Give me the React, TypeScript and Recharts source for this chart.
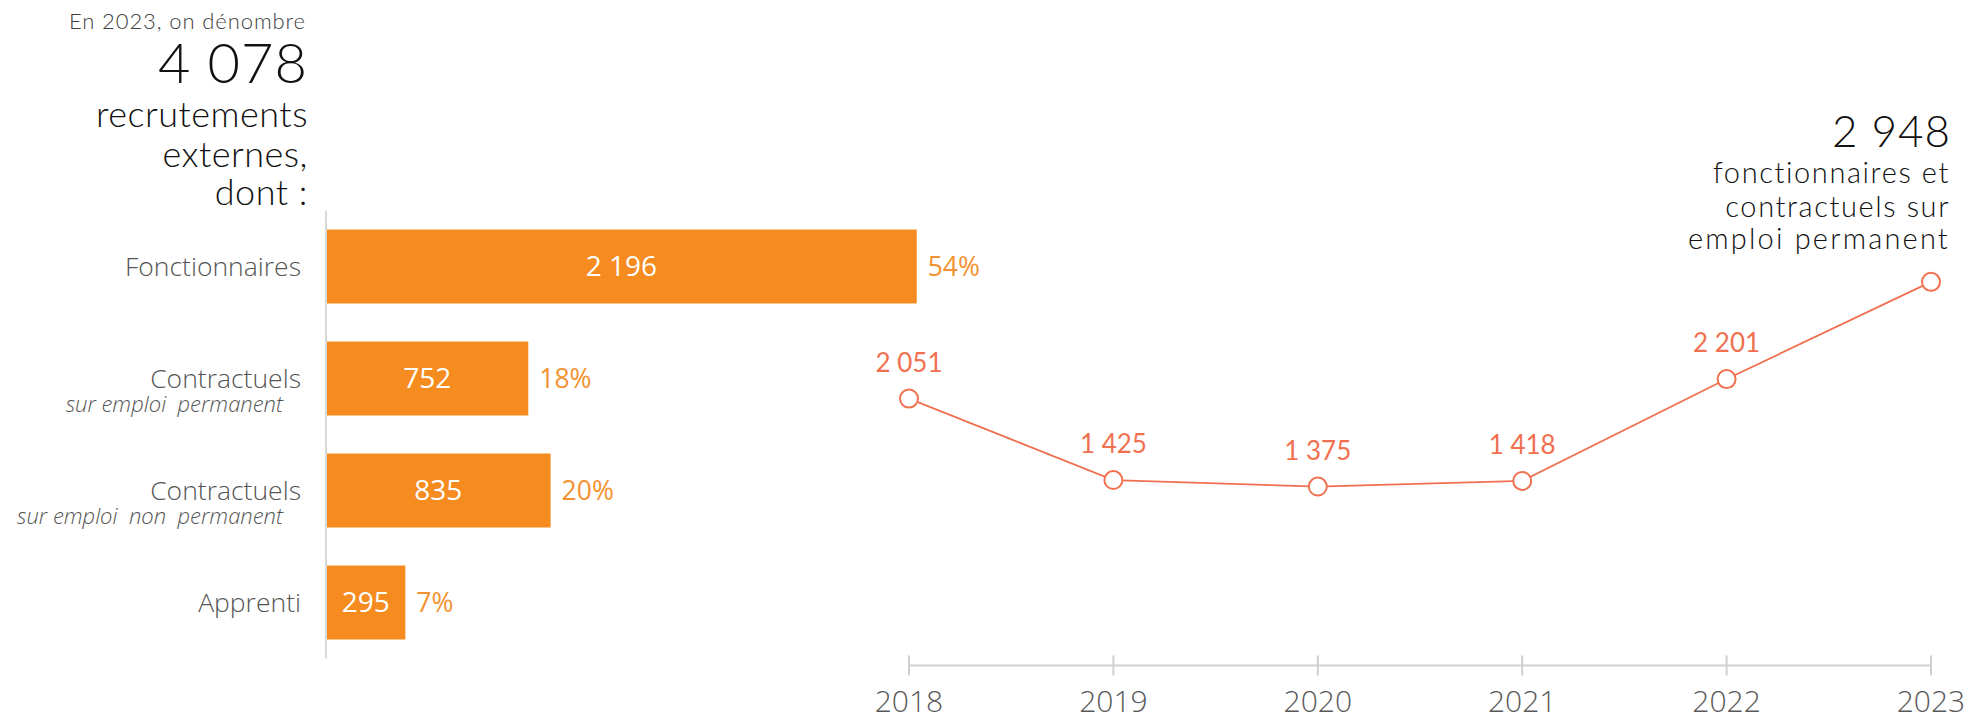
import React from 'react';
import { BarChart, Bar, XAxis, YAxis, LabelList, LineChart, Line } from 'recharts';

// Recrutements externes 2023, par statut
const categories = ['Fonctionnaires', 'Contractuels', 'Contractuels', 'Apprenti'];
const subLabels = ['', 'sur emploi  permanent', 'sur emploi  non  permanent', ''];
const recruitments = [2196, 752, 835, 295];

// Fonctionnaires et contractuels sur emploi permanent
const years = ['2018', '2019', '2020', '2021', '2022', '2023'];
const permanentHires = [2051, 1425, 1375, 1418, 2201, 2948];

const ORANGE = '#F68B1F';
const CORAL = '#F0704F';
const GREY_AXIS = '#cfcfcf';
const LABEL_FONT = '"Open Sans", sans-serif';
const TITLE_FONT = 'Lato, sans-serif';

const fmt = (v: number) => String(v).replace(/\B(?=(\d{3})+(?!\d))/g, ' ');

const total = recruitments.reduce((a, b) => a + b, 0);

const barData = categories.map((label, i) => ({
  id: String(i),
  label,
  sub: subLabels[i],
  value: recruitments[i],
  pct: Math.round((recruitments[i] / total) * 100),
}));

const lineData = years.map((year, i) => ({ year, value: permanentHires[i] }));

const CategoryTick = (props: any) => {
  const { x, y, payload } = props;
  const row = barData[Number(payload.value)];
  if (!row) return null;
  return (
    <g>
      <text x={x - 25} y={y + 9} textAnchor="end" fontSize={26.5} fontWeight={300} fill="#555" fontFamily={LABEL_FONT}>
        {row.label}
      </text>
      {row.sub && (
        <text
          x={x - 43}
          y={y + 33}
          textAnchor="end"
          fontSize={22}
          fontStyle="italic"
          fontWeight={300}
          fill="#555"
          fontFamily={LABEL_FONT}
          style={{ whiteSpace: 'pre' }}
        >
          {row.sub}
        </text>
      )}
    </g>
  );
};

const YearTick = (props: any) => {
  const { x, y, payload } = props;
  return (
    <g>
      <line x1={x} x2={x} y1={y - 10} y2={y + 10} stroke={GREY_AXIS} strokeWidth={2} />
      <text x={x} y={y + 46} textAnchor="middle" fontSize={30} fontWeight={300} fill="#595959" fontFamily={LABEL_FONT}>
        {payload.value}
      </text>
    </g>
  );
};

const PointLabel = (props: any) => {
  const { x, y, value, index } = props;
  if (index === permanentHires.length - 1) return null;
  return (
    <text x={x} y={y - 27} textAnchor="middle" fontSize={26} fill={CORAL} fontFamily={TITLE_FONT}>
      {fmt(value)}
    </text>
  );
};

export default function App() {
  return (
    <div
      style={{
        position: 'absolute',
        left: 0,
        top: 0,
        width: 1971,
        height: 720,
        background: '#fff',
        overflow: 'hidden',
      }}
    >
      <div style={{ position: 'absolute', left: 0, top: 0 }}>
        <BarChart
          width={1000}
          height={720}
          data={barData}
          layout="vertical"
          margin={{ top: 210.5, right: 1.5, bottom: 61.5, left: 0 }}
        >
          <XAxis type="number" domain={[0, 2500]} hide />
          <YAxis
            type="category"
            dataKey="id"
            width={326}
            axisLine={{ stroke: '#d9d9d9', strokeWidth: 2 }}
            tickLine={false}
            tickSize={0}
            tickMargin={0}
            tick={<CategoryTick />}
          />
          <Bar dataKey="value" fill={ORANGE} barSize={74} isAnimationActive={false}>
            <LabelList
              dataKey="value"
              position="center"
              fill="#fff"
              fontSize={28}
              fontFamily={LABEL_FONT}
              formatter={(v: any) => fmt(Number(v))}
            />
            <LabelList
              dataKey="pct"
              position="right"
              offset={11}
              fill="#F39230"
              fontSize={26.5}
              fontFamily={LABEL_FONT}
              formatter={(v: any) => `${v}%`}
            />
          </Bar>
        </BarChart>
      </div>

      <div style={{ position: 'absolute', left: 850, top: 0 }}>
        <LineChart
          width={1121}
          height={720}
          data={lineData}
          margin={{ top: 210, right: 40, bottom: 0, left: 59 }}
        >
          <XAxis
            dataKey="year"
            height={54.5}
            axisLine={{ stroke: GREY_AXIS, strokeWidth: 2 }}
            tickLine={false}
            tickSize={0}
            tickMargin={0}
            interval={0}
            tick={<YearTick />}
          />
          <YAxis type="number" domain={[0, 3500]} hide />
          <Line
            type="linear"
            dataKey="value"
            stroke={CORAL}
            strokeWidth={1.8}
            dot={{ r: 9, fill: '#fff', stroke: CORAL, strokeWidth: 2 }}
            activeDot={false}
            isAnimationActive={false}
          >
            <LabelList dataKey="value" content={<PointLabel />} />
          </Line>
        </LineChart>
      </div>

      <svg
        width={1971}
        height={720}
        style={{ position: 'absolute', left: 0, top: 0, pointerEvents: 'none' }}
        fontFamily={TITLE_FONT}
      >
        <g textAnchor="end" fontWeight={300}>
          <text x={306} y={29} fontSize={22} letterSpacing={0.9} fill="#404040">En 2023, on dénombre</text>
          <text x={308} y={83} fontSize={56} letterSpacing={1} fill="#111">{fmt(total)}</text>
          <text x={308} y={127} fontSize={36} letterSpacing={0.5} fill="#111">recrutements</text>
          <text x={308} y={167} fontSize={36} letterSpacing={0.5} fill="#111">externes,</text>
          <text x={308} y={205} fontSize={36} letterSpacing={0.5} fill="#111">dont :</text>

          <text x={1951} y={147} fontSize={44} letterSpacing={1} fill="#111">{fmt(permanentHires[permanentHires.length - 1])}</text>
          <text x={1950} y={183} fontSize={29} letterSpacing={1.6} fill="#111">fonctionnaires et</text>
          <text x={1950} y={217} fontSize={29} letterSpacing={1.6} fill="#111">contractuels sur</text>
          <text x={1950} y={249} fontSize={29} letterSpacing={2.2} fill="#111">emploi permanent</text>
        </g>
      </svg>
    </div>
  );
}
